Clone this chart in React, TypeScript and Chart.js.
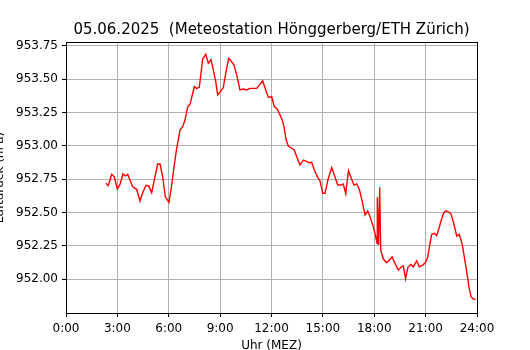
import React, { useEffect, useRef } from 'react';
import { Chart, registerables } from 'chart.js';

Chart.register(...registerables);

const chartTitle = '05.06.2025  (Meteostation Hönggerberg/ETH Zürich)';
const xAxisLabel = 'Uhr (MEZ)';
const yAxisLabel = 'Luftdruck (hPa)';

const xTickHours = [0, 3, 6, 9, 12, 15, 18, 21, 24];
const yTickValues = [952.0, 952.25, 952.5, 952.75, 953.0, 953.25, 953.5, 953.75];

const hours = [
  2.336, 2.47, 2.669, 2.82, 2.996, 3.153, 3.328, 3.463, 3.603, 3.737,
  3.895, 4.128, 4.321, 4.479, 4.672, 4.829, 5.004, 5.156, 5.355, 5.489,
  5.647, 5.799, 6.015, 6.172, 6.307, 6.464, 6.657, 6.815, 6.949, 7.107,
  7.241, 7.375, 7.492, 7.632, 7.784, 7.983, 8.158, 8.309, 8.467, 8.601,
  8.742, 8.858, 9.01, 9.185, 9.343, 9.501, 9.635, 9.81, 9.968, 10.161,
  10.353, 10.552, 10.745, 10.937, 11.136, 11.328, 11.486, 11.661, 11.813, 12.012,
  12.164, 12.304, 12.456, 12.642, 12.73, 12.847, 12.981, 13.18, 13.331, 13.472,
  13.664, 13.857, 14.015, 14.207, 14.347, 14.499, 14.698, 14.832, 14.99, 15.124,
  15.317, 15.515, 15.667, 15.866, 16.058, 16.193, 16.333, 16.496, 16.66, 16.818,
  16.975, 17.139, 17.302, 17.46, 17.618, 17.752, 17.945, 18.085, 18.161, 18.178,
  18.248, 18.318, 18.377, 18.529, 18.727, 18.92, 19.036, 19.212, 19.404, 19.603,
  19.696, 19.825, 19.959, 20.128, 20.28, 20.479, 20.631, 20.829, 20.981, 21.121,
  21.255, 21.355, 21.507, 21.647, 21.781, 21.915, 22.055, 22.19, 22.324, 22.464,
  22.616, 22.815, 22.967, 23.124, 23.258, 23.399, 23.533, 23.65, 23.784, 23.924,
];

const pressure = [
  952.719, 952.701, 952.786, 952.768, 952.676, 952.711, 952.791, 952.774, 952.786, 952.744,
  952.693, 952.674, 952.586, 952.648, 952.704, 952.699, 952.648, 952.744, 952.864, 952.864,
  952.768, 952.618, 952.576, 952.706, 952.843, 952.982, 953.119, 953.144, 953.194, 953.294,
  953.312, 953.382, 953.444, 953.432, 953.44, 953.652, 953.688, 953.62, 953.647, 953.57,
  953.482, 953.382, 953.407, 953.437, 953.557, 953.658, 953.637, 953.607, 953.532, 953.42,
  953.427, 953.42, 953.432, 953.432, 953.432, 953.462, 953.489, 953.42, 953.365, 953.369,
  953.294, 953.282, 953.245, 953.187, 953.144, 953.049, 952.999, 952.982, 952.969, 952.919,
  952.856, 952.894, 952.886, 952.873, 952.876, 952.819, 952.764, 952.738, 952.644, 952.644,
  952.756, 952.836, 952.781, 952.706, 952.706, 952.714, 952.642, 952.813, 952.756, 952.706,
  952.715, 952.668, 952.581, 952.481, 952.511, 952.468, 952.393, 952.318, 952.268, 952.614,
  952.255, 952.689, 952.218, 952.15, 952.122, 952.148, 952.167, 952.118, 952.068, 952.094,
  952.098, 952.002, 952.086, 952.11, 952.092, 952.137, 952.092, 952.105, 952.122, 952.163,
  952.268, 952.336, 952.343, 952.325, 952.381, 952.443, 952.498, 952.513, 952.505, 952.493,
  952.43, 952.323, 952.336, 952.268, 952.167, 952.055, 951.938, 951.867, 951.85, 951.847,
];

const FONT = "'DejaVu Sans', sans-serif";

const decorPlugin = {
  id: 'decor',
  afterDraw(chart: any) {
    const { ctx, chartArea } = chart;
    const { left, right, top, bottom } = chartArea;
    ctx.save();
    // frame (spines)
    ctx.strokeStyle = '#000';
    ctx.lineWidth = 1;
    ctx.strokeRect(Math.round(left) + 0.5, Math.round(top) + 0.5, Math.round(right - left), Math.round(bottom - top));
    // title
    ctx.fillStyle = '#000';
    ctx.font = `15px ${FONT}`;
    ctx.textAlign = 'center';
    ctx.textBaseline = 'alphabetic';
    ctx.fillText(chartTitle, (left + right) / 2, 34);
    // x label
    ctx.font = `12px ${FONT}`;
    ctx.fillText(xAxisLabel, (left + right) / 2, 349);
    // y label
    ctx.translate(3, (top + bottom) / 2);
    ctx.rotate(-Math.PI / 2);
    ctx.fillText(yAxisLabel, 0, 0);
    ctx.restore();
  },
};

export default function App() {
  const canvasRef = useRef<HTMLCanvasElement | null>(null);

  useEffect(() => {
    if (!canvasRef.current) return;
    const data = hours.map((h, i) => ({ x: h, y: pressure[i] }));
    const chart = new Chart(canvasRef.current, {
      type: 'line',
      data: {
        datasets: [
          {
            data,
            borderColor: '#ff0000',
            borderWidth: 1.4,
            pointRadius: 0,
            fill: false,
            tension: 0,
          },
        ],
      },
      options: {
        animation: false,
        responsive: false,
        devicePixelRatio: 1,
        layout: { padding: { left: 0, top: 42, right: 53, bottom: 0 } },
        plugins: {
          legend: { display: false },
          tooltip: { enabled: false },
          title: { display: false },
        },
        scales: {
          x: {
            type: 'linear',
            min: 0,
            max: 24,
            afterFit(scale: any) {
              scale.height = 37;
            },
            afterBuildTicks(scale: any) {
              scale.ticks = xTickHours.map((v) => ({ value: v }));
            },
            ticks: {
              color: '#000',
              font: { family: FONT, size: 12 },
              padding: 5,
              maxRotation: 0,
              autoSkip: false,
              callback: (v: any) => `${v}:00`,
            },
            grid: {
              color: '#b0b0b0',
              lineWidth: 1,
              drawTicks: true,
              tickLength: 4,
              tickColor: '#000',
            },
            border: { display: false },
          },
          y: {
            type: 'linear',
            min: 951.745,
            max: 953.78,
            afterFit(scale: any) {
              scale.width = 66;
            },
            afterBuildTicks(scale: any) {
              scale.ticks = yTickValues.map((v) => ({ value: v }));
            },
            ticks: {
              color: '#000',
              font: { family: FONT, size: 12 },
              padding: 4,
              autoSkip: false,
              callback: (v: any) => Number(v).toFixed(2),
            },
            grid: {
              color: '#b0b0b0',
              lineWidth: 1,
              drawTicks: true,
              tickLength: 4,
              tickColor: '#000',
            },
            border: { display: false },
          },
        },
      },
      plugins: [decorPlugin],
    });
    return () => chart.destroy();
  }, []);

  return (
    <div style={{ position: 'fixed', left: 0, top: 0, width: 530, height: 350, background: '#fff' }}>
      <canvas ref={canvasRef} width={530} height={350} />
    </div>
  );
}
